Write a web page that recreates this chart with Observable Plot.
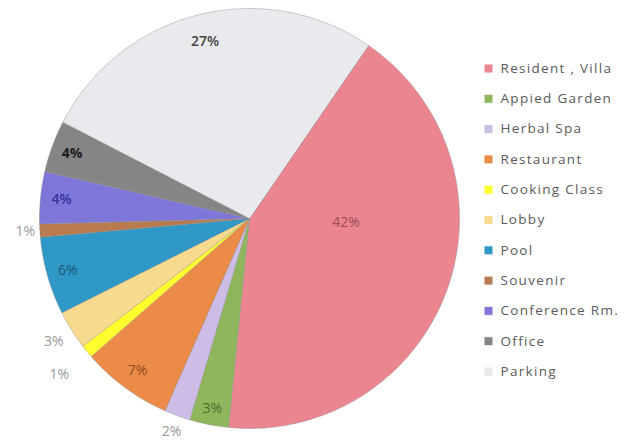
<!DOCTYPE html>
<html><head><meta charset="utf-8">
<script src="https://cdn.jsdelivr.net/npm/d3@7"></script>
<script src="https://cdn.jsdelivr.net/npm/@observablehq/plot@0.6"></script>
<style>body{margin:0;background:#fff;} #chart{width:638px;height:442px;}</style>
</head><body><div id="chart"></div>
<script>
const categories = ["Resident , Villa","Appied Garden","Herbal Spa","Restaurant","Cooking Class","Lobby","Pool","Souvenir","Conference Rm.","Office","Parking"];
const values = [42,3,2,7,1,3,6,1,4,4,27];
const colors = ["#eb8590","#8fb65c","#cdbde6","#ec8a48","#ffff2e","#f8da8e","#2f98c6","#b87a4e","#7e76d8","#858585","#e9e9ee"];
const labelColors = ["#9c4a58","#4e6d2c","#999","#8a4a22","#999","#999","#1d5a78","#999","#34329a","#1e1e1e","#444"];
const labelWeights = ["normal","normal","normal","normal","normal","normal","normal","normal","600","bold","600"];
const labelRadius = [0.46,0.92,1.08,0.9,1.17,1.1,0.9,1.07,0.9,0.9,0.87];
const labelAngleShift = [-18,0,0,0,0,0,0,0,0,0,0];
const startAngleDeg = 34.5;

const cx = 249, cy = 218, R = 210;
const W = 638, H = 442;

const pie = d3.pie().sort(null).value(d => d)
  .startAngle(startAngleDeg * Math.PI/180)
  .endAngle((startAngleDeg + 360) * Math.PI/180);
const arcs = pie(values);

const poly = [];
arcs.forEach((a, i) => {
  poly.push({name: categories[i], x: cx, y: cy});
  const n = Math.max(2, Math.ceil((a.endAngle - a.startAngle) * 180/Math.PI));
  for (let k = 0; k <= n; k++) {
    const t = a.startAngle + (a.endAngle - a.startAngle) * k / n;
    poly.push({name: categories[i], x: cx + R*Math.sin(t), y: cy - R*Math.cos(t)});
  }
});

const labels = arcs.map((a, i) => {
  const m = (a.startAngle + a.endAngle)/2 + labelAngleShift[i]*Math.PI/180;
  const r = R*labelRadius[i];
  return {name: categories[i], text: values[i] + "%", x: cx + r*Math.sin(m), y: cy - r*Math.cos(m), color: labelColors[i], weight: labelWeights[i]};
});

const legX = 488, legTop = 68, legStep = 30.3;
const legend = categories.map((c, i) => ({name: c, x: legX, y: legTop + i*legStep}));

const labelMarks = ["normal","600","bold"].map(w =>
  Plot.text(labels.filter(d => d.weight === w), {x: "x", y: "y", text: "text", fill: "color", fontSize: 14, fontWeight: w}));

const chart = Plot.plot({
  width: W, height: H,
  margin: 0,
  x: {domain: [0, W], range: [0, W], axis: null},
  y: {domain: [0, H], range: [0, H], axis: null},
  color: {domain: categories, range: colors},
  style: {fontFamily: "'Open Sans', sans-serif", background: "#fff"},
  marks: [
    Plot.line(poly, {x: "x", y: "y", z: "name", fill: "name", stroke: "#8c8c8c", strokeWidth: 0.6, strokeOpacity: 0.7, curve: "linear-closed"}),
    ...labelMarks,
    Plot.dot(legend, {x: "x", y: "y", fill: "name", symbol: "square", r: 5, stroke: "#fff", strokeWidth: 0.8}),
    Plot.text(legend, {x: d => d.x + 12, y: "y", text: "name", textAnchor: "start", fill: "#5a5a5a", fontSize: 13.5})
  ]
});
const groups = chart.querySelectorAll('g[aria-label="text"]');
groups[groups.length-1].setAttribute("letter-spacing", "1.3");
document.getElementById("chart").appendChild(chart);
</script>
</body></html>
